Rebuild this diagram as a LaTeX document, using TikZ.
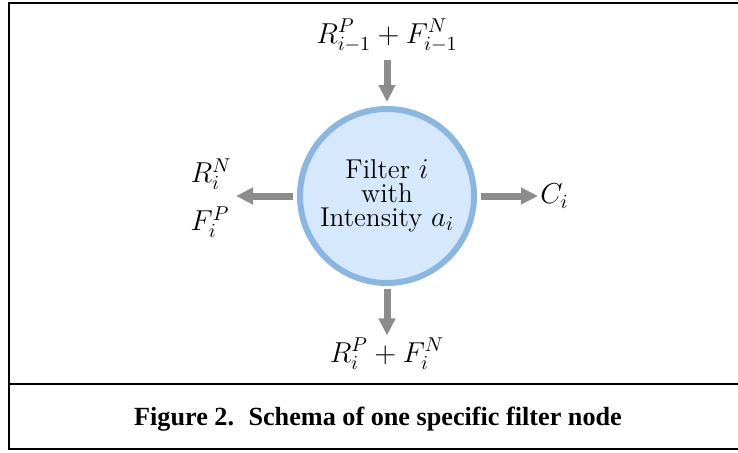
\documentclass[tikz,border=0pt]{standalone}
\usepackage{fontspec}
\newfontfamily\capfont{Liberation Serif}
\usetikzlibrary{arrows.meta}
\definecolor{circfill}{RGB}{214,233,252}
\definecolor{circdraw}{RGB}{137,183,226}
\definecolor{arrgray}{RGB}{140,140,140}
\tikzset{
  arr/.style={draw=arrgray, line width=3.5pt, -{Triangle[width=8pt,length=8.5pt]}},
  lbl/.style={font=\fontsize{14.4}{16}\selectfont, inner sep=4pt},
  frame/.style={line width=1pt, black}
}
\begin{document}
\begin{tikzpicture}[x=0.5pt,y=-0.5pt]
\useasboundingbox (0,0) rectangle (738,452);
% frame
\draw[frame] (738,3) -- (9,3) -- (9,449) -- (738,449);
\draw[frame] (9,384) -- (738,384);
% circle
\node[circle, draw=circdraw, fill=circfill, line width=3pt, minimum size=87pt, inner sep=0pt,
      align=center, font=\fontsize{13.6}{12}\selectfont] (f) at (387,196)
  {Filter $i$\\with\\Intensity $a_i$};
% labels
\node[lbl, anchor=base] (top) at (387,43) {$R^P_{i-1}+F^N_{i-1}$};
\node[lbl, anchor=base, inner sep=1pt] (bot) at (387,362) {$R^P_{i}+F^N_{i}$};
\node[lbl, anchor=east, align=left, inner sep=2pt] (lft) at (236,198) {$R_i^N$\\[8pt]$F_i^P$};
\node[lbl, anchor=west, inner sep=1pt] (rgt) at (538,196) {$C_i$};
% arrows
\draw[arr, shorten >=2pt] (top.south) -- (f.north);
\draw[arr, shorten <=1.5pt] (f.south) -- (bot.north);
\draw[arr, shorten <=2pt] (f.west) -- (f.west -| lft.east);
\draw[arr, shorten <=2pt] (f.east) -- (rgt.west);
% caption
\node[font=\capfont\bfseries\fontsize{13.1}{15}\selectfont, anchor=base] (cap) at (378,425)
  {Figure 2.\hspace{0.55em}Schema of one specific filter node};
\end{tikzpicture}
\end{document}
